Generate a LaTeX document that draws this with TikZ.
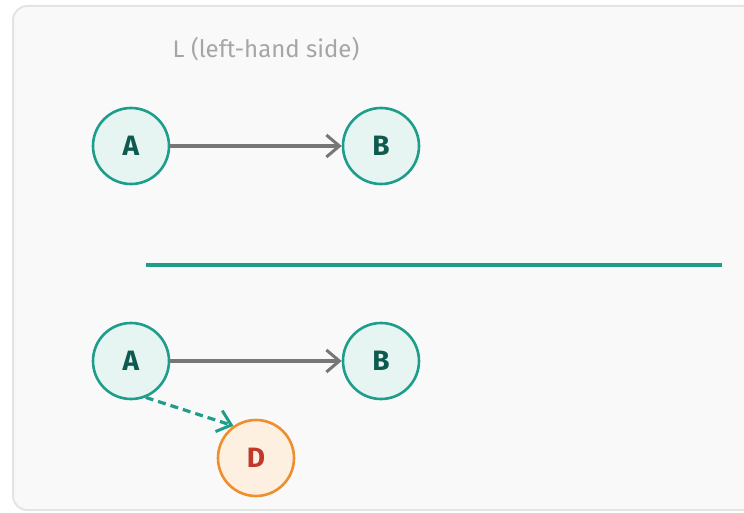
\documentclass[tikz,border=0pt]{standalone}
\usepackage{fontspec}
\setmainfont{Fira Sans}
\usetikzlibrary{arrows.meta}
\definecolor{panelFill}{HTML}{F9F9F9}
\definecolor{panelLine}{HTML}{E4E4E4}
\definecolor{tealLine}{HTML}{1E9E8A}
\definecolor{tealFill}{HTML}{E6F4F2}
\definecolor{tealText}{HTML}{0F5A4E}
\definecolor{orangeLine}{HTML}{EE8E2C}
\definecolor{orangeFill}{HTML}{FDF0E1}
\definecolor{orangeText}{HTML}{C0392B}
\definecolor{edgeGray}{HTML}{777777}
\tikzset{
    vertex/.style={circle, draw=tealLine, fill=tealFill, line width=2.6pt,
        minimum size=76pt, inner sep=0pt, text=tealText, font=\fontsize{28}{30}\selectfont\bfseries},
    addedvertex/.style={vertex, draw=orangeLine, fill=orangeFill, text=orangeText},
    edge/.style={draw=edgeGray, line width=3.4pt, -{Straight Barb[length=13pt,width=22pt,line width=3pt]}},
    addededge/.style={draw=tealLine, line width=3.2pt, dash pattern=on 8pt off 5pt,
        -{Straight Barb[length=13pt,width=22pt,line width=3pt]}}
}

\begin{document}
\begin{tikzpicture}[x=1pt, y=-1pt]
    \useasboundingbox (0,0) rectangle (744,513);
    % panel
    \draw[panelLine, fill=panelFill, line width=2pt, rounded corners=14pt] (13,6) rectangle (770,510);
    \node[text=gray!70, font=\fontsize{24}{28}\selectfont] (title) at (266,49) {L (left-hand side)};

    % left-hand side
    \node[vertex] (la) at (131,146) {A};
    \node[vertex] (lb) at (381,146) {B};
    \draw[edge] (la) -- (lb);

    % divider
    \draw[tealLine, line width=3.8pt] (146,265) -- (722,265);

    % bottom graph
    \node[vertex] (ra) at (131,361) {A};
    \node[vertex] (rb) at (381,361) {B};
    \node[addedvertex] (rd) at (256,458) {D};
    \draw[edge] (ra) -- (rb);
    \draw[addededge] (ra.-68) -- (rd.125);
\end{tikzpicture}
\end{document}
